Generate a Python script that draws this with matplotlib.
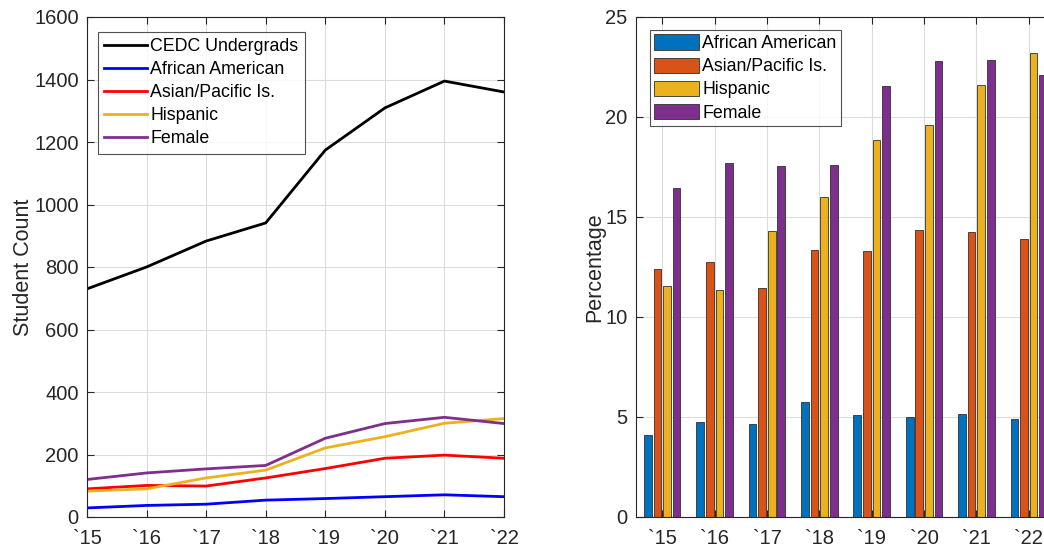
import numpy as np
import matplotlib
matplotlib.use("Agg")
import matplotlib.pyplot as plt

# ---- data ----
years = ['`15', '`16', '`17', '`18', '`19', '`20', '`21', '`22']

cedc_count     = [730, 800, 883, 941, 1174, 1309, 1395, 1360]
african_count  = [29, 37, 41, 54, 59, 65, 71, 65]
asian_count    = [90, 101, 99, 125, 155, 188, 198, 188]
hispanic_count = [83, 90, 125, 150, 221, 257, 300, 315]
female_count   = [120, 141, 154, 165, 252, 299, 319, 299]

african_pct  = [4.08, 4.73, 4.63, 5.74, 5.09, 5.02, 5.17, 4.92]
asian_pct    = [12.38, 12.73, 11.46, 13.37, 13.32, 14.35, 14.27, 13.92]
hispanic_pct = [11.56, 11.37, 14.32, 16.0, 18.85, 19.62, 21.58, 23.2]
female_pct   = [16.45, 17.7, 17.55, 17.6, 21.55, 22.82, 22.85, 22.08]

plt.rcParams['font.family'] = ['Liberation Sans', 'DejaVu Sans']
AX_COL = '#262626'


def style_axes(ax):
    ax.grid(True, color='#dcdcdc', lw=0.8)
    ax.set_axisbelow(True)
    ax.tick_params(direction='in', top=True, right=True, labelsize=14.5,
                   colors=AX_COL, length=5)
    ax.tick_params(axis='x', pad=9)
    ax.tick_params(axis='y', pad=6)
    for sp in ax.spines.values():
        sp.set_color(AX_COL)
        sp.set_linewidth(0.8)


def style_legend(leg):
    leg.get_frame().set_edgecolor(AX_COL)
    leg.get_frame().set_linewidth(0.8)


fig = plt.figure(figsize=(10.44, 5.5), dpi=100)
W, H = 1044, 550
ax1 = fig.add_axes([87 / W, 1 - 517 / H, (504 - 87) / W, 500 / H])
ax2 = fig.add_axes([636 / W, 1 - 517 / H, (1055 - 636) / W, 500 / H])

x = np.arange(1, len(years) + 1)

# ---- left: counts ----
series = [
    (cedc_count, 'k', 'CEDC Undergrads'),
    (african_count, '#0000ff', 'African American'),
    (asian_count, '#ff0000', 'Asian/Pacific Is.'),
    (hispanic_count, '#edb120', 'Hispanic'),
    (female_count, '#7e2f8e', 'Female'),
]
for vals, col, lab in series:
    ax1.plot(x, vals, color=col, lw=2, label=lab)
ax1.set_xlim(1, 8)
ax1.set_ylim(0, 1600)
ax1.set_xticks(x)
ax1.set_xticklabels(years)
ax1.set_yticks(np.arange(0, 1601, 200))
ax1.set_ylabel('Student Count', fontsize=15.5, color=AX_COL, labelpad=0)
style_axes(ax1)
leg1 = ax1.legend(loc='upper left', fontsize=12.8, frameon=True, fancybox=False,
                  borderpad=0.35, labelspacing=0.34, handlelength=2.4,
                  handletextpad=0.2, borderaxespad=0.0,
                  bbox_to_anchor=(11 / 417, 1 - 15 / 500))
style_legend(leg1)

# ---- right: percentages ----
bar_series = [
    (african_pct, '#0072bd', 'African American'),
    (asian_pct, '#d95319', 'Asian/Pacific Is.'),
    (hispanic_pct, '#edb120', 'Hispanic'),
    (female_pct, '#7e2f8e', 'Female'),
]
step, bw = 0.183, 0.147
for i, (vals, col, lab) in enumerate(bar_series):
    ax2.bar(x + (i - 1.5) * step, vals, width=bw, color=col,
            edgecolor='#303030', linewidth=0.6, label=lab)
ax2.set_xlim(0.5, 8.5)
ax2.set_ylim(0, 25)
ax2.set_xticks(x)
ax2.set_xticklabels(years)
ax2.set_yticks(np.arange(0, 26, 5))
ax2.set_ylabel('Percentage', fontsize=15.5, color=AX_COL, labelpad=0)
style_axes(ax2)
leg2 = ax2.legend(loc='upper left', fontsize=12.8, frameon=True, fancybox=False,
                  borderpad=0.25, labelspacing=0.3, handlelength=2.5,
                  handleheight=0.95, handletextpad=0.2, borderaxespad=0.0,
                  bbox_to_anchor=(14 / 419, 1 - 13 / 500))
style_legend(leg2)

fig.savefig('out.png', dpi=100)
